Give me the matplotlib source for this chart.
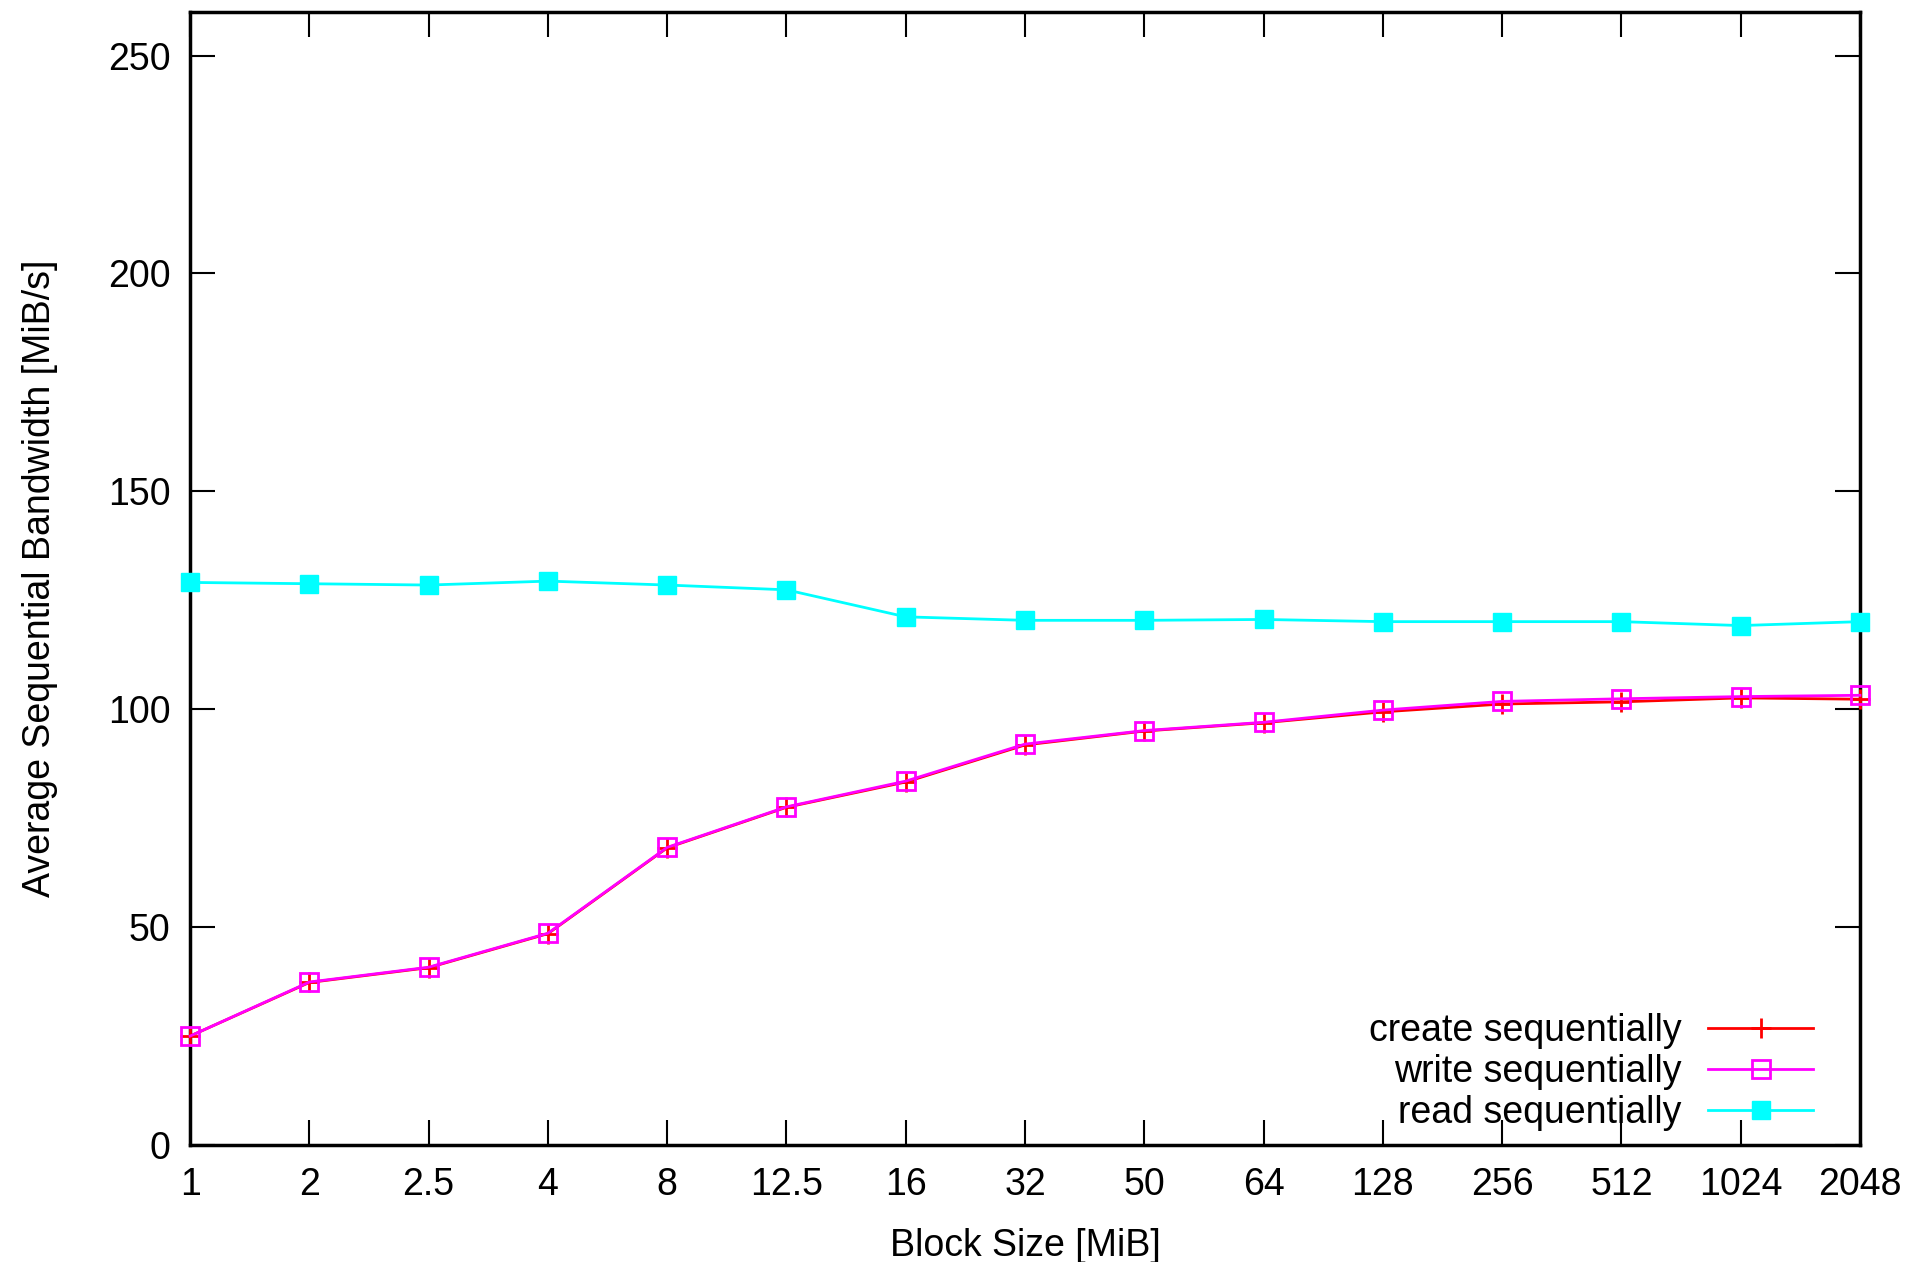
import matplotlib
matplotlib.use("Agg")
import matplotlib.pyplot as plt

plt.rcParams['font.family'] = ['Liberation Sans', 'DejaVu Sans']

block_sizes = ["1", "2", "2.5", "4", "8", "12.5", "16", "32", "50", "64",
               "128", "256", "512", "1024", "2048"]

create_seq = [25.0, 37.3, 40.7, 48.5, 68.2, 77.5, 83.3, 91.8, 95.0, 96.9,
              99.4, 101.2, 101.7, 102.6, 102.3]
write_seq = [25.0, 37.4, 40.8, 48.6, 68.3, 77.6, 83.5, 92.0, 95.1, 97.0,
             99.8, 101.8, 102.4, 102.9, 103.2]
read_seq = [129.1, 128.8, 128.5, 129.4, 128.5, 127.4, 121.2, 120.4, 120.4,
            120.6, 120.1, 120.1, 120.1, 119.2, 120.1]

fig = plt.figure(figsize=(19.24, 12.62), dpi=100)
ax = fig.add_axes([0.0988, 0.0927, 0.8679, 0.8978])

x = list(range(len(block_sizes)))

ax.plot(x, create_seq, color='#ff0000', lw=2, marker='+', ms=14, mew=2,
        label='create sequentially', clip_on=False, zorder=3)
ax.plot(x, write_seq, color='#ff00ff', lw=2, marker='s', ms=13, mew=2,
        mfc='none', label='write sequentially', clip_on=False, zorder=4)
ax.plot(x, read_seq, color='#00ffff', lw=2, marker='s', ms=13,
        mfc='#00ffff', mec='#00ffff', label='read sequentially',
        clip_on=False, zorder=5)

ax.set_xlim(0, len(block_sizes) - 1)
ax.set_ylim(0, 260)
ax.set_xticks(x)
ax.set_xticklabels(block_sizes)
ax.set_yticks([0, 50, 100, 150, 200, 250])

ax.tick_params(axis='both', which='major', direction='in', length=18,
               width=1.5, labelsize=27, top=True, right=True)
ax.tick_params(axis='y', pad=14)
ax.tick_params(axis='x', pad=16)
for s in ax.spines.values():
    s.set_linewidth(2.5)

ax.set_xlabel('Block Size [MiB]', fontsize=27, labelpad=18)
ax.set_ylabel('Average Sequential Bandwidth [MiB/s]', fontsize=27, labelpad=36)

leg = ax.legend(loc='lower right', bbox_to_anchor=(0.972, 0.012), frameon=False,
                fontsize=27, markerfirst=False, handlelength=2.8,
                handletextpad=0.72, labelspacing=0.14, borderaxespad=0.0,
                borderpad=0.0)
for t in leg.get_texts():
    t.set_ha('right')

fig.savefig('out.png', dpi=100)
